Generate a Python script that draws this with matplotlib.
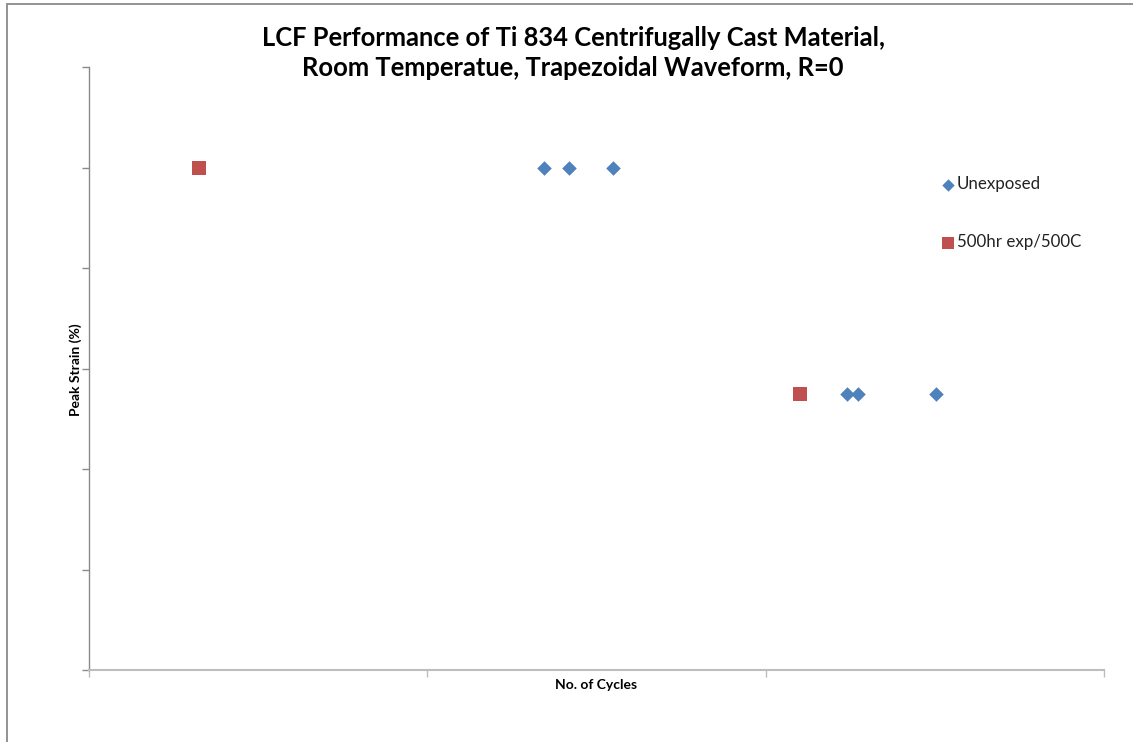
import matplotlib
matplotlib.use("Agg")
import matplotlib.pyplot as plt
from matplotlib.patches import Rectangle
from matplotlib.ticker import NullFormatter

# Fatigue life (cycles) and peak strain (%) per condition
unexposed_cycles = [2210, 2620, 3530, 17350, 18800, 31800]
unexposed_strain = [1.0, 1.0, 1.0, 0.55, 0.55, 0.55]
exposed_cycles = [211, 12600]
exposed_strain = [1.0, 0.55]

series_labels = ["Unexposed", "500hr exp/500C"]
title_text = "LCF Performance of Ti 834 Centrifugally Cast Material,\nRoom Temperatue, Trapezoidal Waveform, R=0"
x_label = "No. of Cycles"
y_label = "Peak Strain (%)"

plt.rcParams["font.family"] = ["Lato", "DejaVu Sans"]

W, H = 1133, 742
fig = plt.figure(figsize=(W / 100, H / 100), dpi=100)
fig.patch.set_facecolor("white")

# chart frame (extends past the right and bottom edges)
fig.patches.append(Rectangle((7 / W, -0.2), 1.2, 1.2 - 4 / H,
                             transform=fig.transFigure, fill=False,
                             edgecolor="#8a8a8a", linewidth=1.3))

ax = fig.add_axes([89 / W, (H - 670) / H, (1104 - 89) / W, (670 - 67) / H])
ax.set_xscale("log")
ax.set_xlim(100, 100000)
ax.set_ylim(0, 1.2)
ax.set_xticks([100, 1000, 10000, 100000])
ax.set_xticks([], minor=True)
ax.set_yticks([0, 0.2, 0.4, 0.6, 0.8, 1.0, 1.2])
ax.xaxis.set_major_formatter(NullFormatter())
ax.yaxis.set_major_formatter(NullFormatter())
ax.tick_params(axis="y", direction="out", length=5, width=1, color="#8a8a8a")
ax.tick_params(axis="x", direction="out", length=5, width=1, color="#bdbdbd")

for side in ("top", "right"):
    ax.spines[side].set_visible(False)
ax.spines["left"].set_color("#8a8a8a")
ax.spines["left"].set_linewidth(1.0)
ax.spines["bottom"].set_color("#bdbdbd")
ax.spines["bottom"].set_linewidth(1.5)

ax.scatter(unexposed_cycles, unexposed_strain, marker="D", s=55,
           color="#4F81BD", linewidths=0, label=series_labels[0], zorder=3)
ax.scatter(exposed_cycles, exposed_strain, marker="s", s=110,
           color="#C0504D", linewidths=0, label=series_labels[1], zorder=3)

leg = ax.legend(loc="upper left", bbox_to_anchor=((935 - 89) / (1104 - 89), (670 - 176) / (670 - 67)),
                frameon=False, fontsize=12.2, labelspacing=2.5, handletextpad=-0.2,
                handlelength=1.5, borderaxespad=0, borderpad=0, markerscale=0.85)
for t in leg.get_texts():
    t.set_color("#222222")

fig.text(573 / W, 1 - 53 / H, title_text, ha="center", va="center",
         fontsize=18.4, fontweight="bold", linespacing=1.3, color="black")
fig.text(596 / W, 1 - 685 / H, x_label, ha="center", va="center",
         fontsize=10, fontweight="bold", color="black")
fig.text(76 / W, 1 - 370 / H, y_label, ha="center", va="center", rotation=90,
         fontsize=10, fontweight="bold", color="black")

fig.savefig("out.png", dpi=100)
